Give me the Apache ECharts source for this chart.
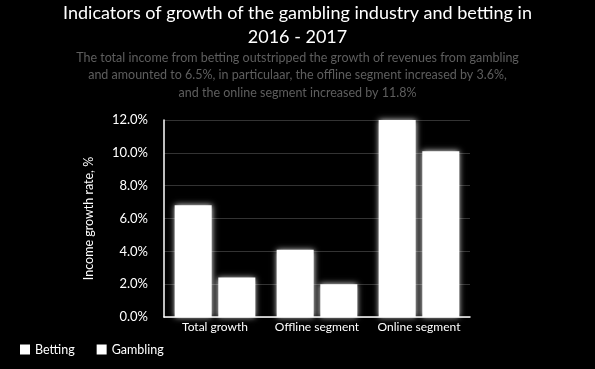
<!DOCTYPE html>
<html><head><meta charset="utf-8">
<script src="https://cdn.jsdelivr.net/npm/echarts@6/dist/echarts.min.js"></script>
<style>html,body{margin:0;padding:0;background:#000;}#c{width:595px;height:369px;}</style>
</head><body><div id="c"></div>
<script>
const categories = ['Total growth', 'Offline segment', 'Online segment'];
const betting = [6.8, 4.1, 12.1];
const gambling = [2.4, 2.0, 10.1];
const seriesNames = ['Betting', 'Gambling'];
const yTicks = [0, 2, 4, 6, 8, 10, 12];

const FONT = 'Lato';
const chart = echarts.init(document.getElementById('c'));
const barStyle = {color: '#ffffff', shadowColor: 'rgba(255,255,255,0.9)', shadowBlur: 6};
chart.setOption({
  backgroundColor: '#000',
  animation: false,
  textStyle: {fontFamily: FONT},
  title: [{
    text: 'Indicators of growth of the gambling industry and betting in\n2016 - 2017',
    left: 'center', top: -4,
    textStyle: {color: '#fff', fontSize: 18, fontWeight: 'normal', lineHeight: 24, fontFamily: FONT, align: 'center'}
  }, {
    text: 'The total income from betting outstripped the growth of revenues from gambling\nand amounted to 6.5%, in particulaar, the offline segment increased by 3.6%,\nand the online segment increased by 11.8%',
    left: 'center', top: 44,
    textStyle: {color: '#5e5e5e', fontSize: 12.5, fontWeight: 'normal', lineHeight: 17.5, fontFamily: FONT, align: 'center'}
  }],
  legend: {
    left: 15, bottom: 8, itemWidth: 10, itemHeight: 10, itemGap: 22, icon: 'rect',
    textStyle: {color: '#fff', fontSize: 12.5, fontFamily: FONT},
    data: seriesNames
  },
  grid: {left: 164, right: 125, top: 120, bottom: 52, containLabel: false},
  xAxis: {
    type: 'category', data: categories,
    axisLine: {lineStyle: {color: '#fff', width: 1.5}},
    axisTick: {show: false},
    axisLabel: {color: '#fff', fontSize: 12, margin: 4, fontFamily: FONT, interval: 0}
  },
  yAxis: {
    type: 'value', min: yTicks[0], max: yTicks[yTicks.length - 1], interval: 2,
    name: 'Income growth rate, %', nameLocation: 'middle', nameGap: 69, nameRotate: 90,
    nameTextStyle: {color: '#fff', fontSize: 12.5, fontFamily: FONT},
    axisLine: {show: true, lineStyle: {color: '#fff', width: 1.5}},
    axisTick: {show: false},
    axisLabel: {color: '#fff', fontSize: 13, margin: 16, fontFamily: FONT,
      formatter: v => v.toFixed(1) + '%'},
    splitLine: {lineStyle: {color: '#333', width: 1}}
  },
  series: [
    {name: seriesNames[0], type: 'bar', data: betting, barWidth: 37, barGap: '18%', itemStyle: barStyle},
    {name: seriesNames[1], type: 'bar', data: gambling, barWidth: 37, itemStyle: barStyle}
  ]
});
</script></body></html>
